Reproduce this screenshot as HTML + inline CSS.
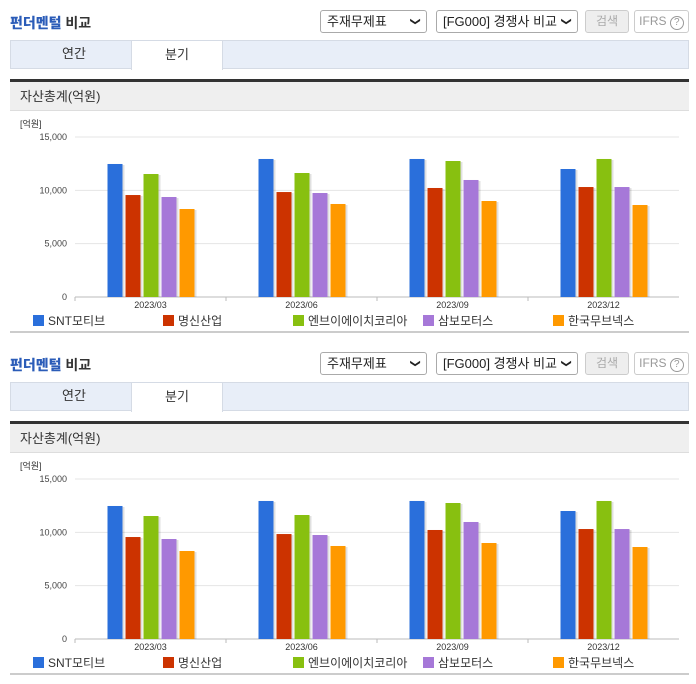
<!DOCTYPE html>
<html><head><meta charset="utf-8">
<style>
*{box-sizing:border-box;margin:0;padding:0}
body{width:696px;height:684px;background:#fff;font-family:"Liberation Sans","Noto Sans CJK KR",sans-serif;position:relative;overflow:hidden;color:#333}
.blk{position:absolute;left:0;width:696px;height:342px}
.title{position:absolute;left:10px;top:13px;font-size:14px;font-weight:bold;color:#333}
.title b{color:#2b5cb8}
.sel{position:absolute;top:10px;height:23px;border:1px solid #aaa;border-radius:3px;font-size:13px;line-height:21px;padding-left:6px;background:#fff;color:#222}
.sel i{position:absolute;right:7px;top:0;font-style:normal;font-size:10px;transform:rotate(90deg)}
.btn{position:absolute;top:10px;height:23px;border:1px solid #ccc;border-radius:3px;font-size:12px;line-height:21px;text-align:center;color:#aaa}
.tabs{position:absolute;left:10px;top:40px;width:679px;height:29px;background:#e8eef8;border:1px solid #d5dbe5}
.tab{position:absolute;top:-1px;height:29px;width:92px;text-align:center;font-size:13px;line-height:28px;color:#333}
.tab.on{background:#fff;border:1px solid #d5dbe5;border-bottom:none;height:30px}
.dark{position:absolute;left:10px;top:79px;width:679px;height:3px;background:#333}
.hdr{position:absolute;left:10px;top:82px;width:679px;height:29px;background:#efefef;border-bottom:1px solid #ddd;font-size:13px;line-height:29px;padding-left:10px;color:#333}
.bot{position:absolute;left:10px;top:331px;width:679px;height:2px;background:#ccc}
svg{position:absolute;left:0;top:112px}
</style></head><body>
<script>
const categories=["2023/03","2023/06","2023/09","2023/12"];
const seriesNames=["SNT모티브","명신산업","엔브이에이치코리아","삼보모터스","한국무브넥스"];
const seriesColors=["#2a6fdb","#cc3300","#88c010","#a678d8","#ff9900"];
const sSNT=[12470,12940,12940,12000];
const sMyungshin=[9560,9840,10220,10310];
const sNVH=[11530,11625,12750,12940];
const sSambo=[9375,9750,10970,10310];
const sMovenex=[8250,8720,9000,8625];
const yTicks=[0,5000,10000,15000];
const yTickLabels=["0","5,000","10,000","15,000"];
const series=[sSNT,sMyungshin,sNVH,sSambo,sMovenex];
const NS="http://www.w3.org/2000/svg";
const x0=75,x1=679,yTop=25,yBot=185,yMax=15000;
const yScale=v=>yBot-(v/yMax)*(yBot-yTop);
const gw=(x1-x0)/categories.length;
const xCenter=i=>x0+gw*(i+0.5);
function mk(tag,attrs,parent){const e=document.createElementNS(NS,tag);for(const k in attrs)e.setAttribute(k,attrs[k]);parent.appendChild(e);return e;}
function block(top,idx){
  const b=document.createElement('div');b.className='blk';b.style.top=top+'px';
  
  b.innerHTML=`
  <div class="title"><b>펀더멘털</b> 비교</div>
  <div class="sel" style="left:320px;width:107px">주재무제표<i>&#10095;</i></div>
  <div class="sel" style="left:436px;width:142px">[FG000] 경쟁사 비교<i>&#10095;</i></div>
  <div class="btn" style="left:585px;width:44px;background:#eee">검색</div>
  <div class="btn" style="left:634px;width:55px;color:#999">IFRS <span style="display:inline-block;width:14px;height:14px;border:1px solid #999;border-radius:50%;font-size:10px;line-height:12px">?</span></div>
  <div class="tabs">
    <div class="tab" style="left:17px">연간</div>
    <div class="tab on" style="left:120px">분기</div>
  </div>
  <div class="dark"></div>
  <div class="hdr">자산총계(억원)</div>
  <div class="bot"></div>`;
  document.body.appendChild(b);
  const svg=mk('svg',{width:696,height:220},b);
  
  const u=mk('text',{x:20,y:15,'font-size':9,fill:'#333'},svg);u.textContent='[억원]';
  
  yTicks.forEach((t,i)=>{
    const y=yScale(t);
    const l=mk('line',{x1:x0,x2:x1,y1:y,y2:y,stroke:i==0?'#bbb':'#e4e4e4'},svg);
    
    const tx=mk('text',{x:67,y:y+3,'font-size':9,fill:'#444','text-anchor':'end'},svg);tx.textContent=yTickLabels[i];
    
  });
  categories.forEach((c,ci)=>{
    const cx=xCenter(ci);
    const sep=mk('line',{x1:x0+gw*ci,x2:x0+gw*ci,y1:yBot,y2:yBot+4,stroke:'#bbb'},svg);
    
    series.forEach((s,si)=>{
      const bx=cx-43+si*18,y=yScale(s[ci]);
      const sh=mk('rect',{x:bx+2,y:y+1,width:15,height:yBot-y-1,fill:'#000','fill-opacity':0.12},svg);
      
      const r=mk('rect',{x:bx,y:y,width:15,height:yBot-y,fill:seriesColors[si]},svg);
      
    });
    const t=mk('text',{x:cx,y:yBot+11,'font-size':9,fill:'#333','text-anchor':'middle'},svg);t.textContent=c;
    
  });
  const lx=[33,163,293,423,553];
  seriesNames.forEach((n,i)=>{
    const r=mk('rect',{x:lx[i],y:203,width:11,height:11,fill:seriesColors[i]},svg);
    
    const t=mk('text',{x:lx[i]+15,y:213,'font-size':12,fill:'#333'},svg);t.textContent=n;
    
  });
}
block(0,1);block(342,2);
</script>
</body></html>
